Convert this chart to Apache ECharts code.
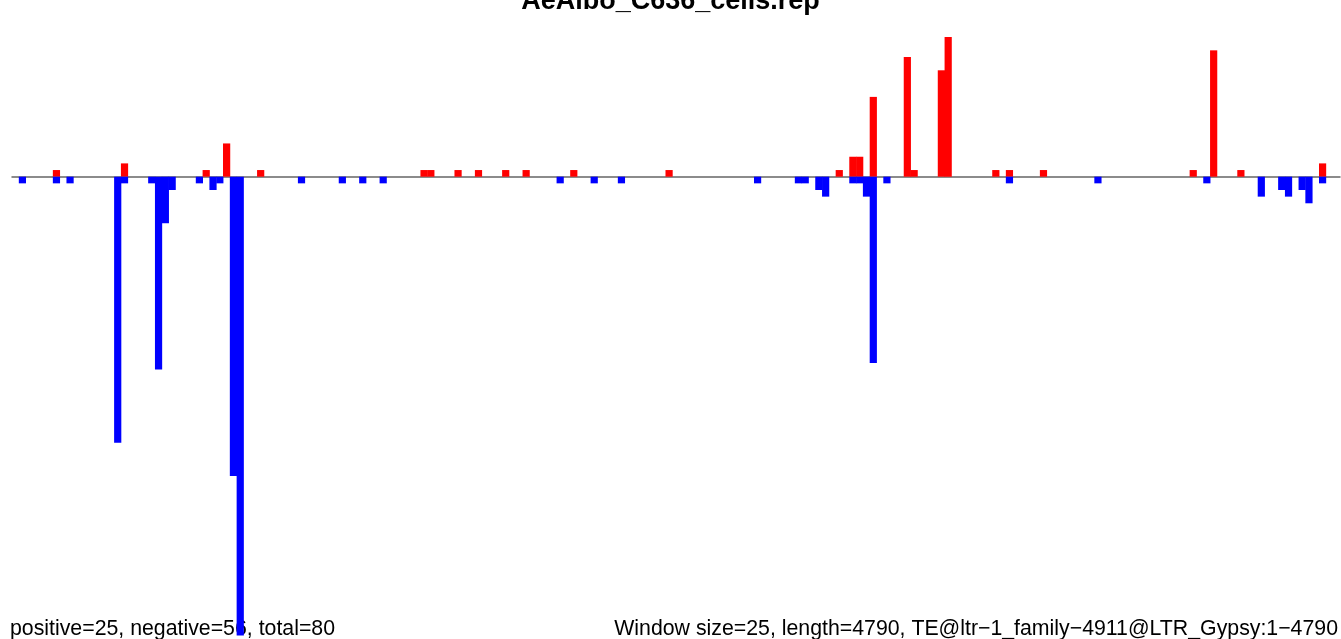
<!DOCTYPE html>
<html>
<head>
<meta charset="utf-8">
<script src="https://cdn.jsdelivr.net/npm/echarts@6/dist/echarts.min.js"></script>
<style>
html,body{margin:0;padding:0;background:#fff;}
#chart{width:1341px;height:639px;}
</style>
</head>
<body>
<div id="chart"></div>
<script>
// ---- data ----
const titleText = 'AeAlbo_C636_cells.rep';
const leftNote = 'positive=25, negative=56, total=80';
const rightNote = 'Window size=25, length=4790, TE@ltr\u22121_family\u22124911@LTR_Gypsy:1\u22124790';
const nWindows = 192;
const posIdx = [5,15,27,30,35,59,60,64,67,71,74,81,95,120,122,123,125,130,131,135,136,143,145,150,172,175,179,191];
const posVal = [1,2,1,5,1,1,1,1,1,1,1,1,1,1,3,3,12,18,1,16,21,1,1,1,1,19,1,2];
const negIdx = [0,5,7,14,15,19,20,21,22,26,28,29,31,32,41,47,50,53,79,84,88,108,114,115,117,118,122,123,124,125,127,145,158,174,182,185,186,188,189,191];
const negVal = [-1,-1,-1,-40,-1,-1,-29,-7,-2,-1,-2,-1,-45,-69,-1,-1,-1,-1,-1,-1,-1,-1,-1,-1,-2,-3,-1,-1,-3,-28,-1,-1,-1,-1,-3,-2,-3,-2,-4,-1];

// build full per-window series
const posFull = new Array(nWindows).fill(0);
const negFull = new Array(nWindows).fill(0);
posIdx.forEach((w, k) => { posFull[w] = posVal[k]; });
negIdx.forEach((w, k) => { negFull[w] = negVal[k]; });
const posData = posFull.map((v, i) => [i + 0.5, v]);
const negData = negFull.map((v, i) => [i + 0.5, v]);

// layout
const gridLeft = 12, gridRight = 1, chartW = 1341;
const xMin = -1.03, xMax = 194.06;
const bandPx = (chartW - gridLeft - gridRight) / (xMax - xMin);

const noteStyle = {fontFamily: 'Liberation Sans, Arial, sans-serif', fontSize: 21.3, fontWeight: 'normal', color: '#000'};
const chart = echarts.init(document.getElementById('chart'), null, {renderer: 'canvas'});
chart.setOption({
  animation: false,
  backgroundColor: '#ffffff',
  title: [
    {text: titleText, left: 'center', top: -12, padding: 0,
     textStyle: {fontFamily: 'Liberation Sans, Arial, sans-serif', fontSize: 27, fontWeight: 'bold', color: '#000'}},
    {text: leftNote, left: 10, bottom: -1, padding: 0, z: 0, textStyle: noteStyle},
    {text: rightNote, right: 3, bottom: -1, padding: 0, z: 0, textStyle: noteStyle}
  ],
  grid: {left: gridLeft, right: gridRight, top: 0, bottom: 0, containLabel: false},
  xAxis: {
    type: 'value', min: xMin, max: xMax,
    axisLine: {show: true, onZero: true, lineStyle: {color: '#666666', width: 1.5}},
    axisTick: {show: false}, axisLabel: {show: false}, splitLine: {show: false}
  },
  yAxis: {
    type: 'value', min: -69.52, max: 26.57,
    axisLine: {show: false}, axisTick: {show: false}, axisLabel: {show: false}, splitLine: {show: false}
  },
  series: [
    {type: 'bar', name: 'positive', data: posData, barWidth: bandPx + 0.4, barGap: '-100%',
     itemStyle: {color: '#ff0000'}, z: 3},
    {type: 'bar', name: 'negative', data: negData, barWidth: bandPx + 0.4, barGap: '-100%',
     itemStyle: {color: '#0000ff'}, z: 3}
  ]
});
</script>
</body>
</html>
